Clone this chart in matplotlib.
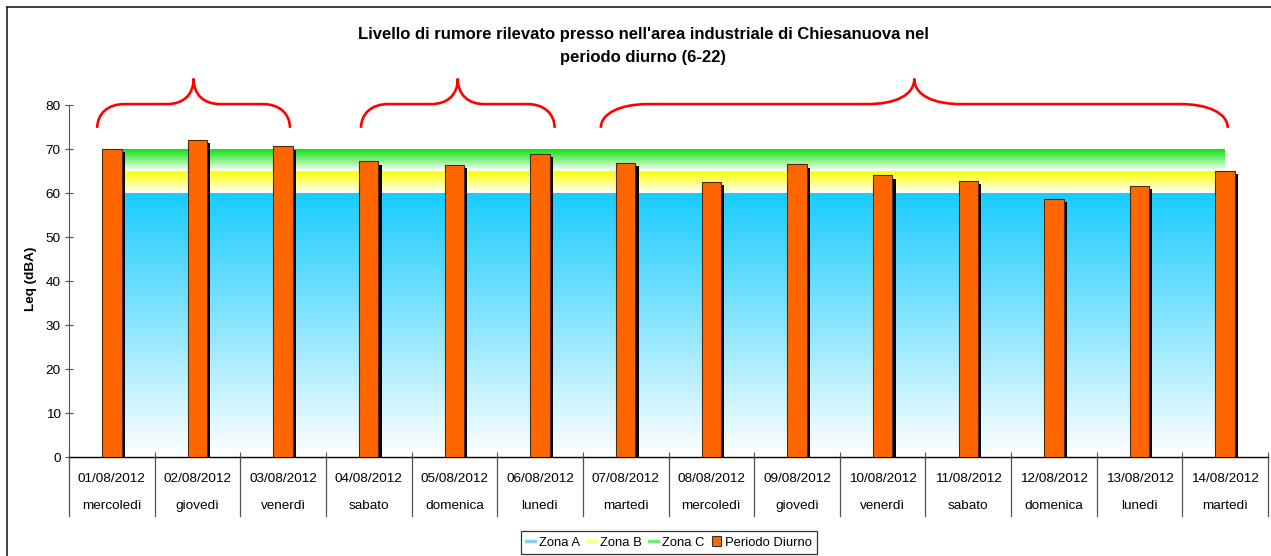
import matplotlib
matplotlib.use("Agg")
import matplotlib.pyplot as plt
import numpy as np
from matplotlib.path import Path
from matplotlib.patches import PathPatch, Patch
from matplotlib.lines import Line2D
import matplotlib.patheffects as pe
from matplotlib.colors import to_rgb

plt.rcParams['font.family'] = ['Liberation Sans', 'DejaVu Sans']

# ---------------- data ----------------
dates = ["01/08/2012", "02/08/2012", "03/08/2012", "04/08/2012", "05/08/2012",
         "06/08/2012", "07/08/2012", "08/08/2012", "09/08/2012", "10/08/2012",
         "11/08/2012", "12/08/2012", "13/08/2012", "14/08/2012"]
days = ["mercoledì", "giovedì", "venerdì", "sabato", "domenica", "lunedì",
        "martedì", "mercoledì", "giovedì", "venerdì", "sabato", "domenica",
        "lunedì", "martedì"]
periodo_diurno = [70.0, 72.1, 70.6, 67.2, 66.4, 68.8, 66.9, 62.5, 66.5, 64.0,
                  62.8, 58.6, 61.6, 65.0]
zona_a = [60] * 14   # limit zone A
zona_b = [5] * 14    # increment to zone B (65)
zona_c = [5] * 14    # increment to zone C (70)

title = "Livello di rumore rilevato presso nell'area industriale di Chiesanuova nel\nperiodo diurno (6-22)"
ylabel = "Leq (dBA)"
yticks = [0, 10, 20, 30, 40, 50, 60, 70, 80]

# ---------------- figure ----------------
W, H = 1271, 556
fig = plt.figure(figsize=(W / 100, H / 100), dpi=100)
ax = fig.add_axes([69 / W, 1 - 457 / H, (1268 - 69) / W, (457 - 105) / H])

n = len(dates)
x = np.arange(n)

# gradient filled stacked areas
def gradient_fill(ax, x, y0, y1, color, zorder):
    poly = ax.fill_between(x, y0, y1, facecolor='none', edgecolor='none', zorder=zorder)
    rgb = np.array(to_rgb(color))
    N = 256
    t = np.linspace(0, 1, N)[:, None]
    img = (1 - t) * np.ones(3) + t * rgb
    img = img[:, None, :]
    lo, hi = float(np.min(y0)), float(np.max(y1))
    im = ax.imshow(img, extent=(x[0], x[-1], lo, hi), origin='lower',
                   aspect='auto', zorder=zorder, interpolation='bilinear')
    path = poly.get_paths()[0]
    im.set_clip_path(path, transform=ax.transData)
    return im

za = np.array(zona_a, float)
zb = za + np.array(zona_b, float)
zc = zb + np.array(zona_c, float)
gradient_fill(ax, x, np.zeros(n), za, "#19CCFF", 1)
gradient_fill(ax, x, za, zb, "#FFFF00", 1)
gradient_fill(ax, x, zb, zc, "#10E010", 1)

# bars with shadow
bars = ax.bar(x, periodo_diurno, width=0.227, color="#FF6600",
              edgecolor="#4a2a10", linewidth=0.8, zorder=3)
for b in bars:
    b.set_path_effects([pe.SimplePatchShadow(offset=(2.3, -2.3), shadow_rgbFace='black', alpha=1.0),
                        pe.Normal()])

ax.set_xlim(-0.5, n - 0.5)
ax.set_ylim(0, 80)
ax.set_yticks(yticks)
ax.tick_params(axis='y', direction='inout', length=6, width=0.8, colors='#555555',
               labelcolor='black', labelsize=9.7, pad=3)
for s in ['top', 'right']:
    ax.spines[s].set_visible(False)
ax.spines['left'].set_color('#555555')
ax.spines['bottom'].set_color('black')
ax.spines['bottom'].set_linewidth(1.0)

# x categories
ax.set_xticks(x)
ax.set_xticklabels([f"{d}\n{g}" for d, g in zip(dates, days)], fontsize=9.7,
                   linespacing=2.63)
ax.tick_params(axis='x', length=0, pad=11.5)
ax.set_xticks(np.arange(-0.5, n, 1.0), minor=True)
ax.tick_params(axis='x', which='minor', direction='inout', length=7, width=0.8, color='#555555')
for b in np.arange(-0.5, n, 1.0):
    ax.plot([b, b], [0, -0.168], transform=ax.get_xaxis_transform(), color='#555555',
            lw=0.9, clip_on=False, zorder=5)

ax.set_ylabel(ylabel, fontsize=9.7, fontweight='bold')
ax.yaxis.set_label_coords(-(69 - 37) / (1268 - 69), (457 - 279) / (457 - 105))

# title
fig.text(643 / W, 1 - 46 / H, title, ha='center', va='center', fontsize=12,
         fontweight='bold', linespacing=1.69)

# braces
def brace(ax, x0, x1, xm, ytip, ymid, ypeak, r):
    verts = [
        (x0, ytip), (x0, ytip + 0.6 * (ymid - ytip)), (x0 + 0.4 * r, ymid), (x0 + r, ymid),
        (xm - r, ymid),
        (xm - 0.4 * r, ymid), (xm, ymid + 0.35 * (ypeak - ymid)), (xm, ypeak),
        (xm, ymid + 0.35 * (ypeak - ymid)), (xm + 0.4 * r, ymid), (xm + r, ymid),
        (x1 - r, ymid),
        (x1 - 0.4 * r, ymid), (x1, ymid + 0.4 * (ytip - ymid)), (x1, ytip),
    ]
    codes = [Path.MOVETO, Path.CURVE4, Path.CURVE4, Path.CURVE4,
             Path.LINETO,
             Path.CURVE4, Path.CURVE4, Path.CURVE4,
             Path.CURVE4, Path.CURVE4, Path.CURVE4,
             Path.LINETO,
             Path.CURVE4, Path.CURVE4, Path.CURVE4]
    p = PathPatch(Path(verts, codes), facecolor='none', edgecolor='#FF0000',
                  lw=1.9, clip_on=False, zorder=6)
    ax.add_patch(p)

for (a0, a1) in [(-0.17, 2.08), (2.91, 5.17), (5.71, 13.03)]:
    mid = (a0 + a1) / 2
    half = (a1 - a0) / 2
    brace(ax, a0, a1, mid, 74.8, 80.2, 86.0, min(0.2 + 0.1 * half, 0.55))

# legend
handles = [Line2D([], [], color="#7FD4F5", lw=2.5),
           Line2D([], [], color="#FFFF80", lw=2.5),
           Line2D([], [], color="#70F070", lw=2.5),
           Patch(facecolor="#FF6600", edgecolor="#333333", lw=0.8)]
labels = ["Zona A", "Zona B", "Zona C", "Periodo Diurno"]
leg = fig.legend(handles, labels, loc='center', bbox_to_anchor=(669 / W, 1 - 542.5 / H),
                 ncol=4, frameon=True, fancybox=False, fontsize=9.4, handlelength=0.7,
                 handleheight=0.7, handletextpad=0.3, columnspacing=0.55,
                 borderpad=0.4, edgecolor='black')
leg.get_frame().set_linewidth(0.9)

# outer chart border (left & top visible)
fig.add_artist(Line2D([6.5 / W, 6.5 / W], [0, 1 - 7 / H], transform=fig.transFigure,
                      color='#222222', lw=1.2))
fig.add_artist(Line2D([6.5 / W, 1], [1 - 7 / H, 1 - 7 / H], transform=fig.transFigure,
                      color='#222222', lw=1.2))

fig.savefig("out.png", dpi=100)
